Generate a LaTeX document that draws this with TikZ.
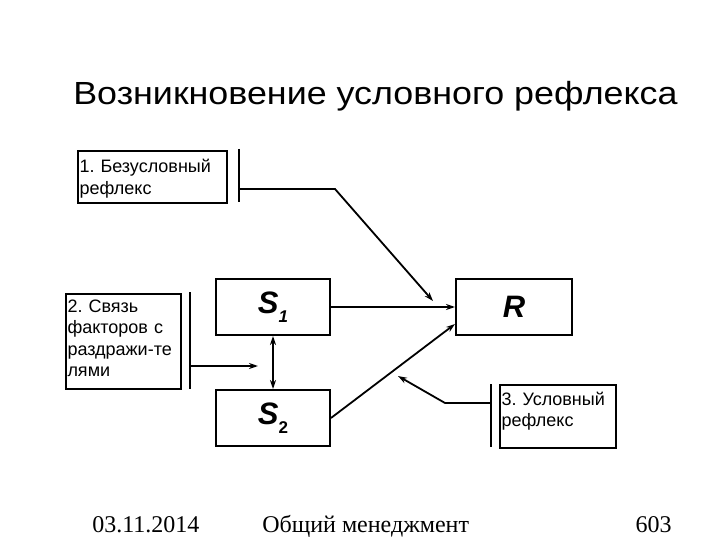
\documentclass[tikz,border=0pt]{standalone}
\usepackage{fontspec}
\setmainfont{Liberation Serif}
\newfontfamily\arialfont{Liberation Sans}
\newfontfamily\titlefont[FakeStretch=1.12]{Liberation Sans}
\usetikzlibrary{arrows.meta}

\newcommand{\lowidx}[1]{\raisebox{-9pt}{\fontsize{17}{17}\selectfont #1}}
\frenchspacing

\begin{document}
\begin{tikzpicture}[x=1pt,y=-1pt,line width=2pt,
  box/.style={draw,rectangle,inner sep=0pt},
  note/.style={box,anchor=north west,align=left,inner xsep=1.5pt,inner ysep=0pt,
    font=\arialfont\fontsize{18}{21.5}\selectfont},
  sym/.style={box,anchor=north west,minimum height=56pt,
    font=\arialfont\bfseries\itshape\fontsize{31}{31}\selectfont},
  foot/.style={anchor=base west,font=\fontsize{24}{28}\selectfont},
  link/.style={line width=1.8pt,>={Stealth[length=9pt,width=6pt]},->}]
\useasboundingbox (0,0) rectangle (720,540);

\node[anchor=base west,font=\titlefont\fontsize{32}{38}\selectfont] (title) at (69,105) {Возникновение условного рефлекса};

% S1, S2 and R
\node[sym,minimum width=114pt] (S1) at (215,278) {S\lowidx{1}};
\node[sym,minimum width=114pt] (S2) at (215,389) {S\lowidx{\upshape 2}};
\node[sym,minimum width=116pt] (R) at (455,278) {R};

% text boxes
\node[note,minimum width=149pt,text width=146pt,text height=21.7pt,text depth=30pt] (n1) at (77,150) {1. Безусловный\\рефлекс};
\node[note,minimum width=115pt,text width=112pt,text height=18pt,text depth=77pt] (n2) at (65,293) {2. Связь\\факторов с\\раздражи-те\\лями};
\node[note,minimum width=116pt,text width=113pt,text height=20.3pt,text depth=43pt] (n3) at (499,384) {3. Условный\\рефлекс};

% bars beside the boxes
\coordinate (b1a) at (239,149); \coordinate (b1b) at (239,202);
\coordinate (b2a) at (190,292); \coordinate (b2b) at (190,389);
\coordinate (b3a) at (491,384); \coordinate (b3b) at (491,447);
\draw (b1a) -- (b1b);
\draw (b2a) -- (b2b);
\draw (b3a) -- (b3b);

\coordinate (b1m) at (239,189); \coordinate (k1) at (335,189); \coordinate (t1) at (433,301);
\coordinate (b2m) at (190,366); \coordinate (t2) at (258,366);
\coordinate (b3m) at (491,403); \coordinate (k3) at (445,403); \coordinate (t3) at (398,376);

\draw[link] (b1m) -- (k1) -- (t1);
\draw[link] (S1.east) -- (R.west);
\draw[link] (S2.east) -- ([yshift=12pt]R.south west);
\draw[link,<->] (S1.south) -- (S2.north);
\draw[link] (b2m) -- (t2);
\draw[link] (b3m) -- (k3) -- (t3);

\node[foot] (date) at (88,532) {03.11.2014};
\node[foot] (course) at (258,532) {Общий менеджмент};
\node[foot,anchor=base east] (page) at (676,532) {603};
\end{tikzpicture}
\end{document}
